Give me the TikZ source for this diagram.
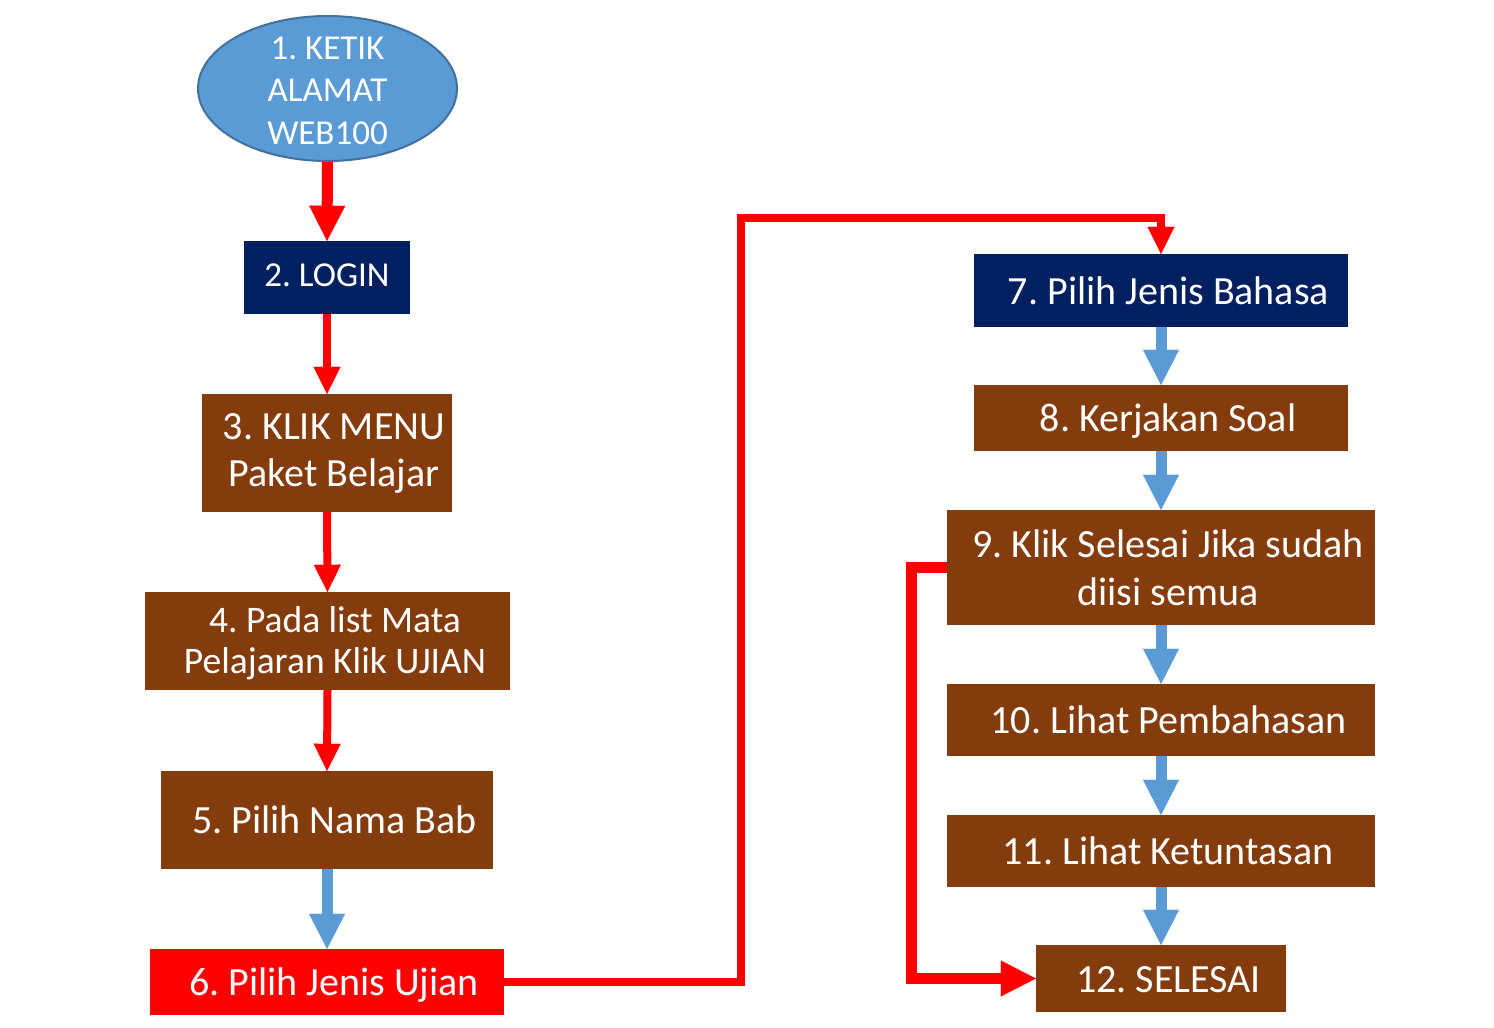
\documentclass[tikz,border=0pt]{standalone}
\usepackage{fontspec}
\setmainfont{Carlito}
\frenchspacing
\usetikzlibrary{shapes.geometric,arrows.meta}
\definecolor{navybox}{HTML}{002060}
\definecolor{brownbox}{HTML}{843C0C}
\definecolor{redbox}{HTML}{FF0000}
\definecolor{bluearrow}{HTML}{5B9BD5}
\definecolor{ellfill}{HTML}{5B9BD5}
\definecolor{elldraw}{HTML}{41719C}
\begin{document}
\begin{tikzpicture}[x=1pt,y=-1pt,
  box/.style={rectangle, inner sep=0pt, draw=none},
  navy/.style={box, fill=navybox},
  brown/.style={box, fill=brownbox},
  redfill/.style={box, fill=redbox},
  txt/.style={text=white, align=center, inner sep=0pt, font=\fontsize{40}{48}\selectfont\frenchspacing},
  one/.style={text height=27.7pt, text depth=8pt, yshift=-4pt},
  redbig/.style={draw=redbox, line width=11pt, -{Triangle[width=36pt,length=35pt,line width=0.01pt]}},
  redsmall/.style={draw=redbox, line width=8pt, -{Triangle[width=27pt,length=27pt,line width=0.01pt]}},
  bluearr/.style={draw=bluearrow, line width=11pt, -{Triangle[width=36pt,length=35pt,line width=0.01pt]}},
]
\useasboundingbox (0,0) rectangle (1494,1028);
\fill[white] (0,0) rectangle (1494,1028);

% left column
\node[ellipse, fill=ellfill, draw=elldraw, line width=2pt, minimum width=259pt, minimum height=145pt, inner sep=0pt,
  label={[txt, font=\fontsize{35}{42.5}\selectfont\frenchspacing, yshift=-2pt]center:1. KETIK\\ALAMAT\\WEB100}] (b1) at (327.5,88.5) {};
\node[navy, minimum width=166pt, minimum height=73pt,
  label={[txt, font=\fontsize{35}{42}\selectfont\frenchspacing, text height=24pt, text depth=7pt]center:2. LOGIN}] (b2) at (327,277.5) {};
\node[brown, minimum width=250pt, minimum height=118pt,
  label={[txt, font=\fontsize{40}{47}\selectfont\frenchspacing, xshift=7pt]center:3. KLIK MENU\\Paket Belajar}] (b3) at (327,453) {};
\node[brown, minimum width=365pt, minimum height=98pt,
  label={[txt, font=\fontsize{37.5}{41}\selectfont\frenchspacing, xshift=7.5pt, yshift=-2pt]center:4. Pada list Mata\\Pelajaran Klik UJIAN}] (b4) at (327.5,641) {};
\node[brown, minimum width=332pt, minimum height=98pt,
  label={[txt, one, xshift=7.5pt]center:5. Pilih Nama Bab}] (b5) at (327,820) {};
\node[redfill, minimum width=354pt, minimum height=66pt,
  label={[txt, one, xshift=7pt]center:6. Pilih Jenis Ujian}] (b6) at (327,982) {};

% right column
\node[navy, minimum width=374pt, minimum height=73pt,
  label={[txt, one, xshift=7.5pt]center:7. Pilih Jenis Bahasa}] (b7) at (1161,290.5) {};
\node[brown, minimum width=374pt, minimum height=66pt,
  label={[txt, one, xshift=7pt]center:8. Kerjakan Soal}] (b8) at (1161,418) {};
\node[brown, minimum width=428pt, minimum height=115pt,
  label={[txt, xshift=7pt]center:9. Klik Selesai Jika sudah\\diisi semua}] (b9) at (1161,567.5) {};
\node[brown, minimum width=428pt, minimum height=72pt,
  label={[txt, one, xshift=7.5pt]center:10. Lihat Pembahasan}] (b10) at (1161,720) {};
\node[brown, minimum width=428pt, minimum height=72pt,
  label={[txt, one, xshift=7pt]center:11. Lihat Ketuntasan}] (b11) at (1161,851) {};
\node[brown, minimum width=250pt, minimum height=67pt,
  label={[txt, one, xshift=7.5pt]center:12. SELESAI}] (b12) at (1161,978.5) {};

% connectors
\draw[redbig] (b1.south) -- (b2.north);
\draw[redsmall] (b2.south) -- (b3.north);
\draw[redsmall] (b3.south) -- (b4.north);
\draw[redsmall] (b4.south) -- (b5.north);
\draw[bluearr] (b5.south) -- (b6.north);

\coordinate (c1) at (741,218);
\draw[redsmall] (b6.east) -| (c1) -| (b7.north);

\draw[bluearr] (b7.south) -- (b8.north);
\draw[bluearr] (b8.south) -- (b9.north);
\draw[bluearr] (b9.south) -- (b10.north);
\draw[bluearr] (b10.south) -- (b11.north);
\draw[bluearr] (b11.south) -- (b12.north);

\coordinate (c2) at (911,567.5);
\draw[redbig] (b9.west) -- (c2) |- (b12.west);
\end{tikzpicture}
\end{document}
